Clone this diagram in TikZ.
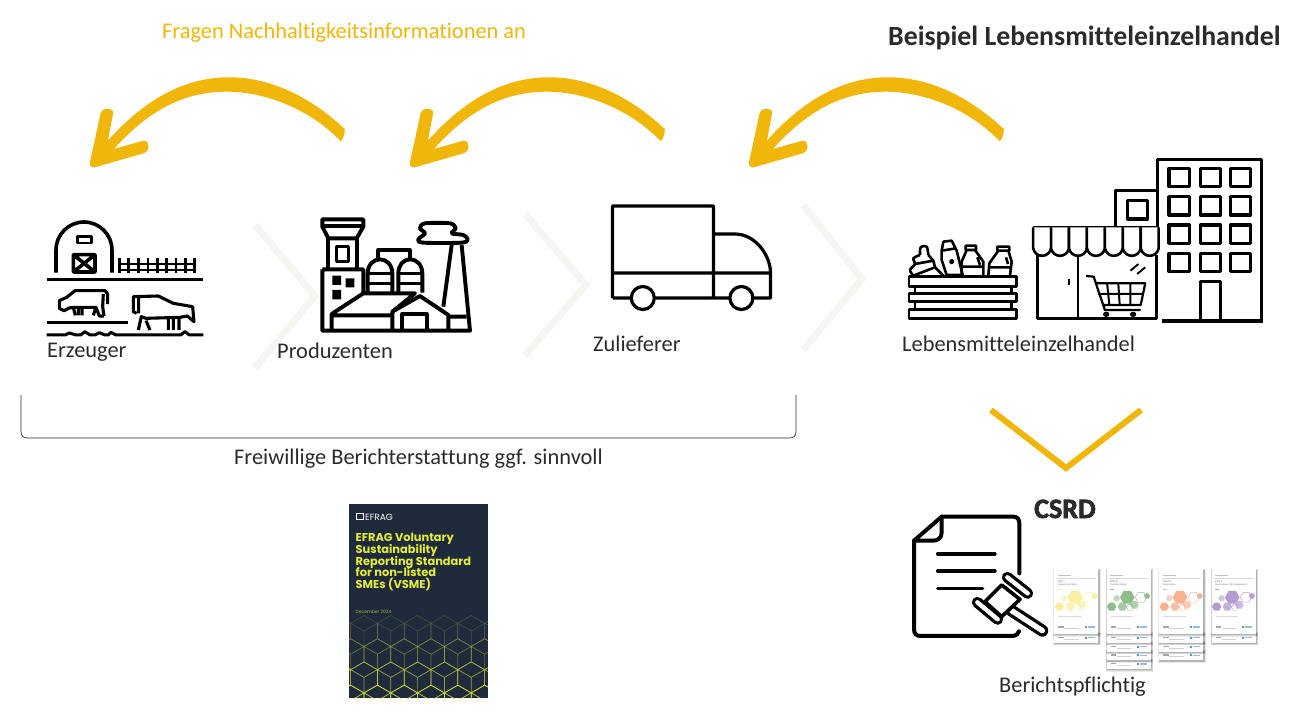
\documentclass[tikz,border=0pt]{standalone}
\usepackage{fontspec}
\setmainfont[Ligatures=NoCommon]{Carlito}
\newfontfamily\popf{Poppins}
\newfontfamily\heavyf[FakeBold=2.5,Ligatures=NoCommon]{Carlito Bold}
\lineskiplimit=-100pt
\definecolor{amber}{HTML}{F0B70A}
\definecolor{chev}{HTML}{F7F5F1}
\definecolor{ink}{HTML}{2B2B2B}
\definecolor{navy}{HTML}{1F2A3C}
\definecolor{lime}{HTML}{E4EE3A}
\definecolor{cubeline}{HTML}{D6E03C}
\definecolor{cyel}{HTML}{F8F0A0}
\definecolor{cgrn}{HTML}{8FBC8C}
\definecolor{corg}{HTML}{F6B291}
\definecolor{cpur}{HTML}{B49CD2}
\definecolor{efblue}{HTML}{2A7FB8}
\tikzset{
  label/.style={font=\fontsize{22.4}{26}\selectfont,text=ink,inner sep=0pt,anchor=base west},
  icon/.style={draw=black,line width=3.2pt,line join=round,line cap=butt},
  heavy/.style={draw=black,line width=3.9pt,line join=round,line cap=butt},
  iconthin/.style={draw=black,line width=2.6pt,line join=round},
  chevron/.style={draw=chev,line width=7pt,miter limit=10},
  swoosh/.pic={\fill[amber] (254.8,-35) .. controls (215,-72) and (175,-86.7) .. (138.9,-86.7) .. controls (95,-86.7) and (55,-65) .. (17.9,-23.3) -- (23,-50) .. controls (24,-54) and (21,-55) .. (16.7,-55) .. controls (13,-55) and (11,-53) .. (10.3,-49.3) -- (0,-1.7) .. controls (-0.5,2) and (2,4) .. (4.8,3.3) -- (53.6,-10.7) .. controls (58,-12.5) and (59,-16) .. (58.3,-18.3) .. controls (58,-22) and (56,-24) .. (53.6,-23.3) -- (23.8,-15) .. controls (60,-55) and (95,-72.3) .. (136.9,-72.3) .. controls (175,-72.3) and (220,-55) .. (250.8,-22.7) .. controls (253,-25) and (255,-30) .. (254.8,-35) -- cycle;},
  tiny/.style={font=\fontsize{2.6}{3}\selectfont,inner sep=0pt,anchor=base west,text=black!55},
}
\newcommand{\hexf}[4]{\fill[#4] (#1+#3,#2) -- (#1+.5*#3,#2+.866*#3) -- (#1-.5*#3,#2+.866*#3) -- (#1-#3,#2) -- (#1-.5*#3,#2-.866*#3) -- (#1+.5*#3,#2-.866*#3) -- cycle;}
\newcommand{\hexo}[4]{\draw[#4,line width=.4pt] (#1+#3,#2) -- (#1+.5*#3,#2+.866*#3) -- (#1-.5*#3,#2+.866*#3) -- (#1-#3,#2) -- (#1-.5*#3,#2-.866*#3) -- (#1+.5*#3,#2-.866*#3) -- cycle;}
\newcommand{\softshadow}[4]{%
  \fill[black,opacity=.08] (#1-3,#2-1) rectangle (#3+8,#4+8);
  \fill[black,opacity=.10] (#1-1,#2) rectangle (#3+6,#4+6);
  \fill[black,opacity=.14] (#1,#2+1) rectangle (#3+4,#4+4);}
% one stacked report: left x, colour, number of peeking sheets, title lines (zoom-4 units)
\newcommand{\reportcard}[5]{%
  \begin{scope}[xshift=#1*0.3333pt]
    \foreach \pk in {#3,...,1}{%
      \pgfmathsetmacro{\ybot}{432+\pk*26.3}
      \softshadow{0}{\ybot-30}{132}{\ybot}
      \fill[white] (0,\ybot-30) rectangle (132,\ybot);
      \fill[black!18] (30,\ybot-12) rectangle (74,\ybot-11);
      \fill[black!35] (12,\ybot-18) rectangle (28,\ybot-14);
      \fill[efblue!80] (92,\ybot-18) rectangle (98,\ybot-12);
      \fill[efblue!50] (100,\ybot-17) rectangle (122,\ybot-13);
    }
    \softshadow{0}{238}{132}{432}
    \fill[white] (0,238) rectangle (132,432);
    \fill[black!15] (8,265) rectangle (126,266);
    \fill[black!25] (10,256) rectangle (50,258);
    \node[tiny] at (10,277) {#4};
    \node[tiny] at (10,287) {#5};
    \fill[#2] (10,296) rectangle (22,298);
    \hexf{62}{322}{22}{#2}
    \hexf{15}{350}{14}{#2}
    \hexf{47}{350}{14}{#2!80}
    \hexf{83}{345}{13}{#2!70}
    \hexf{121}{318}{9}{#2}
    \hexf{30}{325}{10}{#2!60}
    \hexo{103}{322}{17}{#2}
    \hexo{70}{352}{10}{#2}
    \fill[black!15] (12,378) rectangle (80,379);
    \fill[black!18] (30,415) rectangle (74,416);
    \fill[black!35] (12,409) rectangle (28,413);
    \fill[efblue!80] (92,408) rectangle (98,414);
    \fill[efblue!50] (100,409) rectangle (122,413);
  \end{scope}}
\begin{document}
\begin{tikzpicture}[x=1pt,y=-1pt]
\useasboundingbox (0,0) rectangle (1304,720);
\fill[white] (0,0) rectangle (1304,720);

% chevrons
\draw[chevron] (255,225) -- (315,296) -- (255,368);
\draw[chevron] (525,214) -- (586,285) -- (525,355);
\draw[chevron] (803,205) -- (862,279) -- (803,350);
\draw[amber,line width=6pt] (991,410) -- (1066,468) -- (1141,410);

% swooshes
\coordinate (tipa) at (90,164);
\coordinate (tipb) at (410,164);
\coordinate (tipc) at (749,164);
\pic at (tipa) {swoosh};
\pic at (tipb) {swoosh};
\pic at (tipc) {swoosh};

% bracket
\draw[ink,line width=.7pt] (21,395) -- (21,431) .. controls (21,436) and (23,438) .. (28,438) -- (789,438) .. controls (794,438) and (796,436) .. (796,431) -- (796,395);

% farm (zoom-1 units)
\begin{scope}[xshift=20pt,yshift=-190pt,x=0.3333pt,y=-0.3333pt]
  \draw[icon,line width=3.6pt] (108,248) -- (108,180) arc[start angle=180,end angle=0,x radius=84,y radius=-84] -- (276,248);
  \draw[icon,line width=2.8pt] (172,139) rectangle (214,159);
  \draw[icon,line width=3.6pt] (160,194) rectangle (225,246) (160,194) -- (225,246) (225,194) -- (160,246);
  \draw[icon,line width=2.8pt] (295,222) -- (525,222) (295,240) -- (525,240);
  \foreach \fx in {298,326,356,384,412,440,468,496,524}{\draw[icon,line width=2.8pt] (\fx,205) -- (\fx,250);}
  \draw[icon,line width=3.6pt] (82,268) -- (548,268);
  \draw[icon,line width=3.6pt] (82,398) -- (323,398);
\end{scope}
% cows and ground (zoom-9 units)
\begin{scope}[xshift=40pt,yshift=-280pt,x=0.3333pt,y=-0.3333pt]
  \draw[iconthin,line width=3.1pt] (192,108) -- (178,108) -- (168,82) -- (100,82) -- (88,84) -- (72,92) -- (58,85) -- (58,62) -- (80,52) -- (105,32) -- (195,32) -- (203,42) -- (203,72);
  \draw[iconthin,line width=3.1pt] (190,42) -- (188,80) -- (192,108);
  \draw[iconthin,line width=3.1pt] (100,82) -- (106,106) (115,84) -- (115,106) (126,84) -- (126,106) (168,82) -- (160,106);
  \draw[iconthin,line width=3.1pt] (290,100) -- (280,95) -- (280,50) -- (355,48) -- (400,70) -- (458,80) -- (462,125) -- (442,108) -- (420,112) -- (318,115) -- (304,110) -- (295,150) (318,122) -- (330,150) (296,50) -- (296,100) (385,113) -- (385,150) (400,113) -- (400,150) (417,113) -- (417,150);
  \draw[icon,line width=3pt] (20,165) -- (75,165) -- (88,159) -- (108,165) -- (122,165) -- (135,155) -- (150,165) -- (165,165) -- (178,158) -- (195,165) -- (205,165) -- (213,157) -- (228,165) -- (422,165) -- (435,155) -- (448,165) -- (490,165);
\end{scope}

% factory (crop units, origin 315,210)
\begin{scope}[xshift=315pt,yshift=-210pt,x=0.3333pt,y=-0.3333pt]
  \draw[heavy] (22,28) -- (145,28) -- (145,50) -- (125,85) -- (40,85) -- (22,50) -- cycle (22,48) -- (145,48);
  \draw[heavy] (40,85) -- (40,178) (125,85) -- (125,178);
  \draw[heavy,line width=3.4pt] (65,110) rectangle (100,155);
  \draw[heavy] (22,178) -- (145,178) -- (145,250) (22,178) -- (22,362) -- (465,362) -- (440,105) (410,105) -- (385,290);
  \fill (52,197) rectangle (78,225) (92,205) rectangle (118,232) (52,240) rectangle (78,268);
  \draw[heavy] (158,248) -- (158,190) .. controls (158,165) and (175,148) .. (195,148) .. controls (215,148) and (232,165) .. (232,190) -- (232,248);
  \draw[heavy] (250,248) -- (250,190) .. controls (250,165) and (265,148) .. (286,148) .. controls (305,148) and (322,165) .. (322,190) -- (322,248);
  \draw[heavy,line width=3.4pt] (158,190) -- (232,190) (158,220) -- (232,220) (250,190) -- (322,190) (250,220) -- (322,220);
  \draw[heavy] (190,148) -- (190,120) -- (285,120) -- (285,148);
  \draw[heavy] (50,362) -- (50,312) -- (145,250) -- (300,250) -- (232,305) -- (232,362) (50,316) -- (232,316);
  \draw[heavy] (232,305) -- (315,258) -- (400,315) -- (400,362) (400,320) -- (455,320);
  \draw[heavy] (262,362) -- (262,312) -- (335,312) -- (335,362);
  \draw[heavy,smooth cycle] plot coordinates {(330,40) (405,40) (422,55) (410,70) (445,75) (458,88) (440,98) (325,98) (310,88) (330,70) (315,55)};
\end{scope}

% truck
\draw[icon] (612.5,298) -- (612.5,206) -- (713.5,206) -- (713.5,298) (713.5,234) -- (735,234) .. controls (755,234) and (770.5,255) .. (770.5,273) -- (770.5,298) -- (612.5,298) (612.5,273) -- (770.5,273);
\draw[icon,fill=white] (642.8,298) circle[radius=11.5];
\draw[icon,fill=white] (741.4,298) circle[radius=11.5];

% groceries (zoom-8 units)
\begin{scope}[xshift=900pt,yshift=-230pt,x=0.3333pt,y=-0.3333pt]
  \draw[iconthin] (27,140) rectangle (350,170) (27,190) rectangle (350,215) (27,238) rectangle (350,265);
  \draw[iconthin] (45,170) -- (45,190) (335,170) -- (335,190) (45,215) -- (45,238) (335,215) -- (335,238);
  \draw[iconthin,smooth] plot coordinates {(60,75) (62,52) (80,50) (85,75)};
  \draw[iconthin,smooth] plot coordinates {(60,75) (40,85) (45,102) (30,120) (40,137)};
  \draw[iconthin] (85,75) -- (100,92) -- (105,112) -- (130,137) (45,102) -- (100,92) (40,137) -- (105,112);
  \draw[iconthin] (125,62) -- (130,35) -- (155,32) -- (170,62) -- (188,135) -- (140,135) -- (125,90) -- cycle (125,62) -- (168,55);
  \draw[iconthin] (155,95) circle[radius=4.5];
  \draw[iconthin] (197,47) rectangle (228,60) (200,60) -- (185,95) -- (185,137) (225,60) -- (250,95) -- (250,137) (185,110) -- (250,110) (232,82) -- (240,105);
  \draw[iconthin] (292,50) rectangle (328,62) (295,62) -- (268,100) -- (265,137) (325,62) -- (335,95) -- (330,137) (268,112) -- (330,112) (318,82) -- (324,102);
\end{scope}

% store and tower (zoom-2 units: x 2.23, y 3)
\begin{scope}[xshift=578pt,yshift=-150pt,x=0.4484pt,y=-0.3333pt]
  \draw[icon] (1293,232) -- (1293,28) -- (1525,28) -- (1525,515) (1302,513) -- (1527,513);
  \foreach \wx in {1318,1388,1455}{\foreach \wy in {55,140,225,310}{\draw[icon] (\wx,\wy) rectangle (\wx+45,\wy+55);}}
  \draw[icon] (1388,510) -- (1388,395) -- (1432,395) -- (1432,510);
  \draw[icon] (1198,232) -- (1198,122) -- (1293,122);
  \draw[icon] (1225,152) rectangle (1270,207);
  \draw[iconthin] (1015,232) -- (1295,232);
  \foreach \ax in {1015,1055,...,1255}{\draw[iconthin,fill=white] (\ax,232) -- (\ax,295) .. controls (\ax+5,325) and (\ax+35,325) .. (\ax+40,295) -- (\ax+40,232);}
  \draw[iconthin] (1025,315) -- (1025,505) -- (1290,505) -- (1290,315);
  \draw[iconthin] (1115,318) -- (1115,505) (1095,388) -- (1095,406);
  \draw[iconthin,line width=2.2pt] (1133,378) -- (1150,380) -- (1175,480) -- (1255,480);
  \draw[iconthin,line width=2.2pt] (1155,400) -- (1265,400) -- (1255,465) -- (1170,465);
  \draw[iconthin,line width=2pt] (1180,400) -- (1185,465) (1205,400) -- (1208,465) (1232,400) -- (1232,465) (1160,432) -- (1260,432);
  \draw[iconthin,line width=2.2pt,fill=white] (1178,493) circle[radius=4.5] (1238,493) circle[radius=4.5];
  \draw[iconthin,line width=1.9pt] (1232,362) -- (1250,342) (1247,372) -- (1265,352);
\end{scope}

% document + gavel (zoom-4 units)
\begin{scope}[xshift=900pt,yshift=-490pt,x=0.3333pt,y=-0.3333pt]
  \draw[icon,line width=4pt,line cap=round] (42,152) -- (125,80) -- (340,80) .. controls (352,80) and (358,88) .. (358,100) -- (358,250);
  \draw[icon,line width=4pt,line cap=round] (125,80) -- (125,128) .. controls (125,145) and (112,152) .. (98,152) -- (42,152) -- (42,418) .. controls (42,432) and (50,438) .. (62,438) -- (340,438) .. controls (348,438) and (354,432) .. (357,424);
  \draw[icon,line width=3.4pt,line cap=round] (113,192) -- (285,192) (113,243) -- (285,243) (113,295) -- (248,295);
  \draw[black,line width=12pt,line cap=round] (335,362) -- (427,422);
  \draw[white,line width=5.4pt,line cap=round] (335,362) -- (427,422);
  \filldraw[fill=white,draw=black,line width=3.6pt,line join=round] (305,285) -- (360,328) -- (305,380) -- (255,335) -- cycle;
  \draw[black,line width=11pt,line cap=round] (322,262) -- (383,310);
  \draw[white,line width=4.4pt,line cap=round] (322,262) -- (383,310);
  \draw[black,line width=11pt,line cap=round] (232,337) -- (293,388);
  \draw[white,line width=4.4pt,line cap=round] (232,337) -- (293,388);
  % reports
  \reportcard{463}{cyel}{1}{ESRS 1}{General principles}
  \reportcard{620}{cgrn}{4}{ESRS E1}{Climate change}
  \reportcard{778}{corg}{3}{ESRS G1}{Governance}
  \reportcard{935}{cpur}{1}{ESRS 2}{Governance, risk management}
\end{scope}

% EFRAG booklet
\fill[navy] (349,504) rectangle (488,698);
\begin{scope}
  \clip (349,504) rectangle (488,698);
  \foreach \rw/\op in {0/.2,1/.4,2/.65,3/.9,4/1}{
    \pgfmathsetmacro{\cy}{631+\rw*23.2}
    \foreach \k in {-1,0,...,5}{
      \pgfmathsetmacro{\cx}{364+(\k+0.5*mod(\rw,2))*26.8}
      \draw[cubeline,opacity=\op,line width=.7pt] (\cx,\cy-15.5) -- (\cx+13.4,\cy-7.75) -- (\cx+13.4,\cy+7.75) -- (\cx,\cy+15.5) -- (\cx-13.4,\cy+7.75) -- (\cx-13.4,\cy-7.75) -- cycle (\cx,\cy) -- (\cx+13.4,\cy-7.75) (\cx,\cy) -- (\cx-13.4,\cy-7.75) (\cx,\cy) -- (\cx,\cy+15.5);
    }
  }
\end{scope}
\draw[white,line width=.9pt] (356,513) rectangle (363,519);
\node[inner sep=0pt,anchor=base west,text=white,font=\popf\fontsize{9}{10}\selectfont] (efraglogo) at (365,520) {EFRAG};
\node[inner sep=0pt,anchor=north west,align=left,text=lime,font=\popf\bfseries\fontsize{11.4}{11.7}\selectfont] (vsmetitle) at (355.5,533) {EFRAG Voluntary\\Sustainability\\Reporting Standard\\for non-listed\\SMEs (VSME)};
\node[inner sep=0pt,anchor=base west,text=lime!70!navy,font=\popf\fontsize{4.5}{5}\selectfont] (vsmedate) at (355.5,613) {December 2024};

% labels
\node[label] (erz) at (47,357) {Erzeuger};
\node[label] (pro) at (277,358) {Produzenten};
\node[label] (zul) at (593,351) {Zulieferer};
\node[label] (leh) at (902,351) {Lebensmitteleinzelhandel};
\node[label] (frei) at (234,464) {Freiwillige Berichterstattung ggf. sinnvoll};
\node[label] (ber) at (999,692) {Berichtspflichtig};
\node[label,text=amber] (fra) at (162,38) {Fragen Nachhaltigkeitsinformationen an};
\node[label,text=ink,font=\bfseries\fontsize{27.8}{32}\selectfont] (bsp) at (888,45) {Beispiel Lebensmitteleinzelhandel};
\node[label,text=ink,font=\heavyf\fontsize{28}{32}\selectfont] (csrd) at (1034,518) {CSRD};
\end{tikzpicture}
\end{document}
